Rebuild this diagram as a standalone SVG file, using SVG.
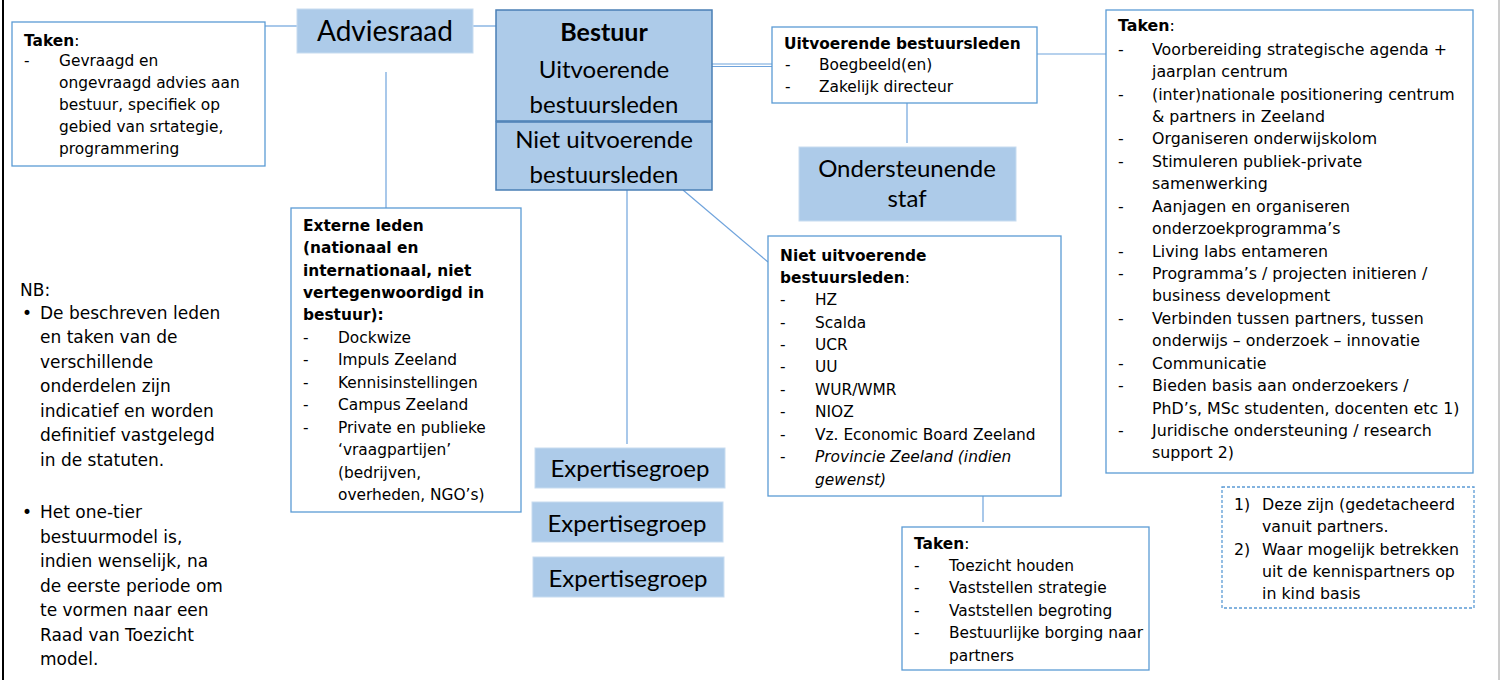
<svg xmlns="http://www.w3.org/2000/svg" width="1500" height="680" viewBox="0 0 1500 680">
<style>
  .bg{fill:#ffffff}
  .box{fill:#ffffff;stroke:#5b9bd5;stroke-width:1.3}
  .dash{fill:#ffffff;stroke:#5b9bd5;stroke-width:1.3;stroke-dasharray:3 2}
  .blue{fill:#adcbe9;stroke:#c7dcf0;stroke-width:1}
  .bst{fill:#adcbe9;stroke:#4a7fb5;stroke-width:1.5}
  .con{stroke:#6fa3dc;stroke-width:1.2;fill:none}
  .v{font-family:"DejaVu Sans",Verdana,sans-serif;font-size:15.4px;fill:#000}
  .t{font-family:"DejaVu Sans",Tahoma,sans-serif;font-size:15.8px;fill:#000}
  .nb{font-family:"DejaVu Sans",Verdana,sans-serif;font-size:17px;fill:#000}
  .c{font-family:"Lato","Liberation Sans",sans-serif;font-size:24px;fill:#000;text-anchor:middle}
  .big{font-size:28px}
  .b{font-weight:bold}
  .i{font-style:italic}
</style>
<rect class="bg" x="0" y="0" width="1500" height="680"/>
<line x1="3" y1="0" x2="3" y2="680" stroke="#000" stroke-width="2"/>
<line x1="1499" y1="0" x2="1499" y2="680" stroke="#9a9a9a" stroke-width="1"/>

<g id="connectors">
  <line class="con" x1="265" y1="26" x2="297" y2="26"/>
  <line class="con" x1="473" y1="26" x2="496" y2="26"/>
  <line class="con" x1="386" y1="72" x2="386" y2="208"/>
  <line class="con" x1="710" y1="64" x2="772" y2="64"/>
  <line class="con" x1="710" y1="66.5" x2="775" y2="66.5"/>
  <line class="con" x1="1037" y1="54" x2="1106" y2="54"/>
  <line class="con" x1="907" y1="103" x2="907" y2="143"/>
  <line class="con" x1="627" y1="190" x2="627" y2="444"/>
  <line class="con" x1="683" y1="190" x2="768" y2="262"/>
  <line class="con" x1="983" y1="496" x2="983" y2="522"/>
</g>

<g id="adviesraad-taken">
  <rect class="box" x="12" y="22" width="253" height="144"/>
  <text class="v" x="24" y="46"><tspan class="b">Taken</tspan>:</text>
  <text class="v" x="24" y="66">-</text>
  <text class="v" x="59" y="66">Gevraagd en</text>
  <text class="v" x="59" y="88">ongevraagd advies aan</text>
  <text class="v" x="59" y="110">bestuur, specifiek op</text>
  <text class="v" x="59" y="132">gebied van srtategie,</text>
  <text class="v" x="59" y="154">programmering</text>
</g>

<g id="adviesraad">
  <rect class="blue" x="297" y="9" width="176" height="44"/>
  <text class="c big" x="385" y="41">Adviesraad</text>
</g>

<g id="bestuur">
  <rect class="bst" x="496" y="10" width="216" height="111"/>
  <text class="c b" x="604" y="41" style="font-size:25px">Bestuur</text>
  <text class="c" x="604" y="78">Uitvoerende</text>
  <text class="c" x="604" y="113">bestuursleden</text>
</g>

<g id="niet-uitvoerende">
  <rect class="bst" x="496" y="122" width="216" height="68"/>
  <text class="c" x="604" y="148">Niet uitvoerende</text>
  <text class="c" x="604" y="183">bestuursleden</text>
</g>

<g id="uitvoerende-bestuursleden">
  <rect class="box" x="772" y="27" width="265" height="76"/>
  <text class="v b" x="784" y="49">Uitvoerende bestuursleden</text>
  <text class="v" x="785" y="70">-</text>
  <text class="v" x="819" y="70">Boegbeeld(en)</text>
  <text class="v" x="785" y="92">-</text>
  <text class="v" x="819" y="92">Zakelijk directeur</text>
</g>

<g id="ondersteunende-staf">
  <rect class="blue" x="799" y="147" width="217" height="74"/>
  <text class="c" x="907" y="177">Ondersteunende</text>
  <text class="c" x="907" y="207">staf</text>
</g>

<g id="taken-uitvoerend">
  <rect class="box" x="1106" y="10" width="367" height="463"/>
  <text class="t" x="1118" y="31"><tspan class="b">Taken</tspan>:</text>
  <g class="t">
    <text x="1118" y="55">-</text><text x="1152" y="55">Voorbereiding strategische agenda +</text>
    <text x="1152" y="77">jaarplan centrum</text>
    <text x="1118" y="100">-</text><text x="1152" y="100">(inter)nationale positionering centrum</text>
    <text x="1152" y="122">&amp; partners in Zeeland</text>
    <text x="1118" y="144">-</text><text x="1152" y="144">Organiseren onderwijskolom</text>
    <text x="1118" y="167">-</text><text x="1152" y="167">Stimuleren publiek-private</text>
    <text x="1152" y="189">samenwerking</text>
    <text x="1118" y="212">-</text><text x="1152" y="212">Aanjagen en organiseren</text>
    <text x="1152" y="234">onderzoekprogramma’s</text>
    <text x="1118" y="257">-</text><text x="1152" y="257">Living labs entameren</text>
    <text x="1118" y="279">-</text><text x="1152" y="279">Programma’s / projecten initieren /</text>
    <text x="1152" y="301">business development</text>
    <text x="1118" y="324">-</text><text x="1152" y="324">Verbinden tussen partners, tussen</text>
    <text x="1152" y="346">onderwijs – onderzoek – innovatie</text>
    <text x="1118" y="369">-</text><text x="1152" y="369">Communicatie</text>
    <text x="1118" y="391">-</text><text x="1152" y="391">Bieden basis aan onderzoekers /</text>
    <text x="1152" y="414">PhD’s, MSc studenten, docenten etc 1)</text>
    <text x="1118" y="436">-</text><text x="1152" y="436">Juridische ondersteuning / research</text>
    <text x="1152" y="458">support 2)</text>
  </g>
</g>

<g id="externe-leden">
  <rect class="box" x="291" y="208" width="230" height="304"/>
  <g class="v">
    <text class="b" x="303" y="231">Externe leden</text>
    <text class="b" x="303" y="253">(nationaal en</text>
    <text class="b" x="303" y="276">internationaal, niet</text>
    <text class="b" x="303" y="298">vertegenwoordigd in</text>
    <text class="b" x="303" y="320">bestuur):</text>
    <text x="303" y="343">-</text><text x="338" y="343">Dockwize</text>
    <text x="303" y="365">-</text><text x="338" y="365">Impuls Zeeland</text>
    <text x="303" y="388">-</text><text x="338" y="388">Kennisinstellingen</text>
    <text x="303" y="410">-</text><text x="338" y="410">Campus Zeeland</text>
    <text x="303" y="433">-</text><text x="338" y="433">Private en publieke</text>
    <text x="338" y="455">‘vraagpartijen’</text>
    <text x="338" y="478">(bedrijven,</text>
    <text x="338" y="500">overheden, NGO’s)</text>
  </g>
</g>

<g id="niet-uitvoerende-leden">
  <rect class="box" x="768" y="236" width="293" height="260"/>
  <g class="v">
    <text class="b" x="780" y="261">Niet uitvoerende</text>
    <text x="780" y="283"><tspan class="b">bestuursleden</tspan>:</text>
    <text x="780" y="305">-</text><text x="815" y="305">HZ</text>
    <text x="780" y="328">-</text><text x="815" y="328">Scalda</text>
    <text x="780" y="350">-</text><text x="815" y="350">UCR</text>
    <text x="780" y="372">-</text><text x="815" y="372">UU</text>
    <text x="780" y="395">-</text><text x="815" y="395">WUR/WMR</text>
    <text x="780" y="417">-</text><text x="815" y="417">NIOZ</text>
    <text x="780" y="440">-</text><text x="815" y="440">Vz. Economic Board Zeeland</text>
    <text x="780" y="462">-</text><text class="i" x="815" y="462">Provincie Zeeland (indien</text>
    <text class="i" x="815" y="485">gewenst)</text>
  </g>
</g>

<g id="expertisegroep-1">
  <rect class="blue" x="535" y="448" width="190" height="40"/>
  <text class="c" x="630" y="477">Expertisegroep</text>
</g>
<g id="expertisegroep-2">
  <rect class="blue" x="532" y="502" width="191" height="40"/>
  <text class="c" x="627" y="532">Expertisegroep</text>
</g>
<g id="expertisegroep-3">
  <rect class="blue" x="533" y="557" width="191" height="40"/>
  <text class="c" x="628" y="587">Expertisegroep</text>
</g>

<g id="taken-toezicht">
  <rect class="box" x="902" y="527" width="247" height="143"/>
  <g class="v">
    <text x="914" y="549"><tspan class="b">Taken</tspan>:</text>
    <text x="914" y="571">-</text><text x="949" y="571">Toezicht houden</text>
    <text x="914" y="593">-</text><text x="949" y="593">Vaststellen strategie</text>
    <text x="914" y="616">-</text><text x="949" y="616">Vaststellen begroting</text>
    <text x="914" y="638">-</text><text x="949" y="638">Bestuurlijke borging naar</text>
    <text x="949" y="661">partners</text>
  </g>
</g>

<g id="voetnoten">
  <rect class="dash" x="1222" y="487" width="252" height="121"/>
  <g class="t">
    <text x="1234" y="510">1)</text><text x="1262" y="510">Deze zijn (gedetacheerd</text>
    <text x="1262" y="532">vanuit partners.</text>
    <text x="1234" y="555">2)</text><text x="1262" y="555">Waar mogelijk betrekken</text>
    <text x="1262" y="577">uit de kennispartners op</text>
    <text x="1262" y="599">in kind basis</text>
  </g>
</g>

<g id="nb">
  <g class="nb">
    <text x="20" y="296">NB:</text>
    <text x="22" y="319">•</text><text x="40" y="319">De beschreven leden</text>
    <text x="40" y="343">en taken van de</text>
    <text x="40" y="368">verschillende</text>
    <text x="40" y="392">onderdelen zijn</text>
    <text x="40" y="417">indicatief en worden</text>
    <text x="40" y="441">definitief vastgelegd</text>
    <text x="40" y="466">in de statuten.</text>
    <text x="22" y="518">•</text><text x="40" y="518">Het one-tier</text>
    <text x="40" y="543">bestuurmodel is,</text>
    <text x="40" y="567">indien wenselijk, na</text>
    <text x="40" y="592">de eerste periode om</text>
    <text x="40" y="616">te vormen naar een</text>
    <text x="40" y="641">Raad van Toezicht</text>
    <text x="40" y="665">model.</text>
  </g>
</g>
</svg>
